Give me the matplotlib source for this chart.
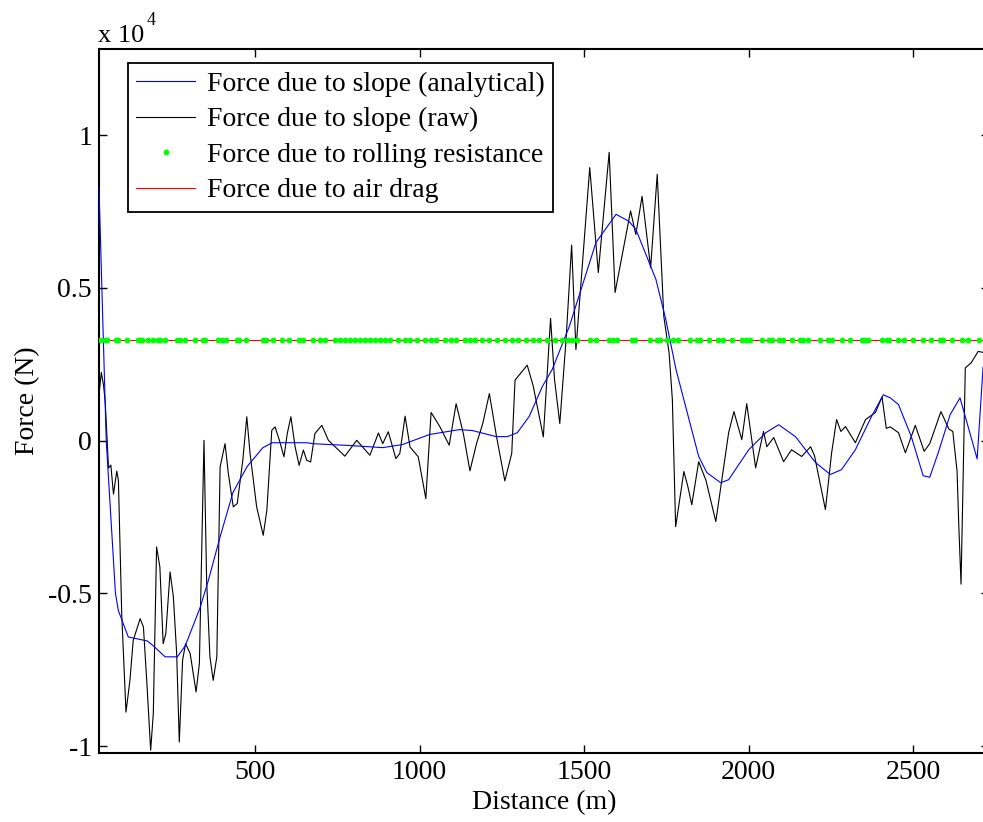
import matplotlib
matplotlib.use('Agg')
import matplotlib.pyplot as plt

# Slope force from the analytical road profile
analytic_dist = [26, 48, 76, 85, 115, 173, 191, 227, 264, 288, 333, 358, 394, 433, 476,
                 524, 552, 658, 676, 727, 788, 888, 948, 1030, 1121, 1160, 1233, 1267,
                 1297, 1333, 1373, 1403, 1455, 1536, 1597, 1636, 1657, 1718, 1748, 1779,
                 1848, 1873, 1915, 1939, 2000, 2052, 2091, 2142, 2203, 2248, 2282, 2324,
                 2373, 2409, 2430, 2455, 2494, 2530, 2550, 2576, 2612, 2642, 2694, 2712]
analytic_force = [8300, 0, -5000, -5570, -6430, -6560, -6720, -7080, -7080, -6720, -5475,
                  -4590, -3150, -1700, -850, -230, -70, -70, -100, -130, -160, -230, -130,
                  200, 360, 330, 130, 130, 260, 790, 1770, 2330, 3740, 6490, 7410, 7180,
                  6920, 5280, 3970, 2330, -520, -1050, -1380, -1280, -300, 260, 520, 130,
                  -720, -1110, -950, -300, 790, 1500, 1400, 1180, 130, -1150, -1200, -390,
                  850, 1400, -600, 2400]

# Slope force from the raw elevation samples
raw_dist = [26, 33, 40, 45, 55, 62, 70, 80, 85, 95, 108, 120, 130, 151, 161, 171, 183,
            191, 201, 211, 221, 229, 242, 252, 262, 270, 280, 289, 303, 321, 331, 345,
            353, 363, 373, 384, 394, 409, 419, 434, 446, 463, 475, 485, 505, 525, 536,
            551, 561, 574, 588, 598, 609, 622, 634, 647, 657, 669, 682, 703, 723, 773,
            809, 849, 875, 888, 905, 928, 940, 956, 971, 996, 1019, 1035, 1062, 1090,
            1111, 1133, 1153, 1173, 1192, 1212, 1234, 1259, 1280, 1290, 1327, 1345, 1376,
            1398, 1410, 1426, 1445, 1462, 1475, 1517, 1543, 1576, 1594, 1641, 1657, 1676,
            1702, 1722, 1742, 1758, 1768, 1778, 1803, 1815, 1827, 1848, 1870, 1900, 1939,
            1955, 1979, 1994, 2021, 2045, 2055, 2076, 2106, 2130, 2161, 2188, 2200, 2233,
            2252, 2267, 2280, 2294, 2324, 2355, 2385, 2405, 2418, 2430, 2455, 2476, 2506,
            2533, 2550, 2584, 2608, 2620, 2633, 2638, 2645, 2652, 2658, 2676, 2697, 2730]
raw_force = [1500, 2230, 1800, 1250, -900, -800, -1750, -1000, -1300, -5660, -8890, -7850,
             -6540, -5830, -6100, -7850, -10140, -8940, -3480, -4140, -6650, -6320, -4300,
             -5120, -6970, -9870, -7190, -6650, -6970, -8230, -7300, 10, -4570, -7080,
             -7850, -7080, -860, -100, -1080, -2170, -2060, -640, 780, -420, -2170, -3100,
             -2280, 340, 450, 10, -530, 230, 780, -210, -810, -310, -640, -700, 230, 500,
             10, -510, 10, -480, 250, -100, 290, -590, -420, 800, -210, -530, -1900, 920,
             450, -150, 1210, 230, -990, -100, 560, 1540, 120, -1320, -420, 1980, 2470,
             1800, 120, 4000, 2000, 560, 3300, 6400, 2980, 8940, 5500, 9440, 4850, 7520,
             6750, 8000, 5660, 8720, 4070, 2880, 1340, -2820, -1010, -1500, -2100, -690,
             -1300, -2650, 260, 950, 30, 1210, -890, 300, -200, 100, -690, -300, -520,
             -200, -500, -2260, -390, 690, 300, 460, -70, 690, 920, 1430, 400, 450, 260,
             -400, 500, -350, -100, 950, 380, 300, -1000, -2700, -4700, -800, 2380, 2550,
             2920, 2850]

# Rolling resistance and air drag, evaluated at the sample distances
sample_dist = [29, 44, 50, 77, 84, 111, 145, 151, 157, 175, 190, 205, 211, 226, 263, 272,
               287, 318, 342, 348, 388, 400, 412, 445, 451, 473, 524, 533, 554, 582, 603,
               634, 646, 676, 697, 713, 743, 758, 773, 788, 804, 819, 834, 849, 864, 879,
               895, 910, 934, 956, 971, 992, 1016, 1035, 1050, 1077, 1095, 1110, 1138,
               1153, 1168, 1189, 1210, 1235, 1259, 1280, 1299, 1323, 1345, 1363, 1387,
               1412, 1433, 1451, 1463, 1478, 1518, 1536, 1575, 1587, 1600, 1645, 1654,
               1700, 1721, 1730, 1751, 1769, 1784, 1821, 1842, 1851, 1879, 1906, 1922,
               1949, 1979, 1992, 2004, 2040, 2062, 2071, 2092, 2104, 2131, 2155, 2164,
               2180, 2216, 2241, 2253, 2283, 2307, 2344, 2353, 2362, 2404, 2420, 2426,
               2453, 2471, 2499, 2529, 2554, 2581, 2590, 2617, 2648, 2666, 2700]
rolling_force = [3310] * len(sample_dist)
drag_dist = [26, 2730]
drag_force = [3310, 3310]

plt.rcParams['font.family'] = ['Liberation Serif', 'DejaVu Serif']
plt.rcParams['axes.unicode_minus'] = False

fig = plt.figure(figsize=(9.83, 8.22), dpi=100)
ax = fig.add_axes([0.1007, 0.0839, 0.9054, 0.8564])

scale = 1e4
ax.plot(analytic_dist, [v / scale for v in analytic_force], color='#0000ff', lw=0.8,
        label='Force due to slope (analytical)', zorder=3)
ax.plot(raw_dist, [v / scale for v in raw_force], color='black', lw=0.8,
        label='Force due to slope (raw)', zorder=2)
ax.plot(sample_dist, [v / scale for v in rolling_force], ls='none', marker='o', ms=4.2,
        mec='none', color='#00ff00', label='Force due to rolling resistance', zorder=4)
ax.plot(drag_dist, [v / scale for v in drag_force], color='#ff0000', lw=0.8,
        label='Force due to air drag', zorder=1)

ax.set_xlim(26, 2730)
ax.set_ylim(-1.023, 1.282)
ax.set_xticks([500, 1000, 1500, 2000, 2500])
ax.set_yticks([-1, -0.5, 0, 0.5, 1])
ax.set_yticklabels(['-1', '-0.5', '0', '0.5', '1'])
ax.tick_params(direction='in', length=6, width=1, labelsize=20, pad=5,
               top=True, right=True)
for s in ax.spines.values():
    s.set_linewidth(1.5)

ax.set_xlabel('Distance (m)', fontsize=20, labelpad=4)
ax.set_ylabel('Force (N)', fontsize=20, labelpad=6)

fig.text(0.0997, 0.949, 'x 10', fontsize=19, ha='left', va='baseline')
fig.text(0.1495, 0.970, '4', fontsize=13, ha='left', va='baseline')

leg = ax.legend(loc='upper left', bbox_to_anchor=(0.0327, 0.980), borderaxespad=0,
                fancybox=False, framealpha=1, edgecolor='black', fontsize=20,
                handlelength=2.1, handletextpad=0.45, labelspacing=0.36,
                borderpad=0.3, numpoints=1)
leg.get_frame().set_linewidth(1.3)

fig.savefig('out.png', dpi=100)
